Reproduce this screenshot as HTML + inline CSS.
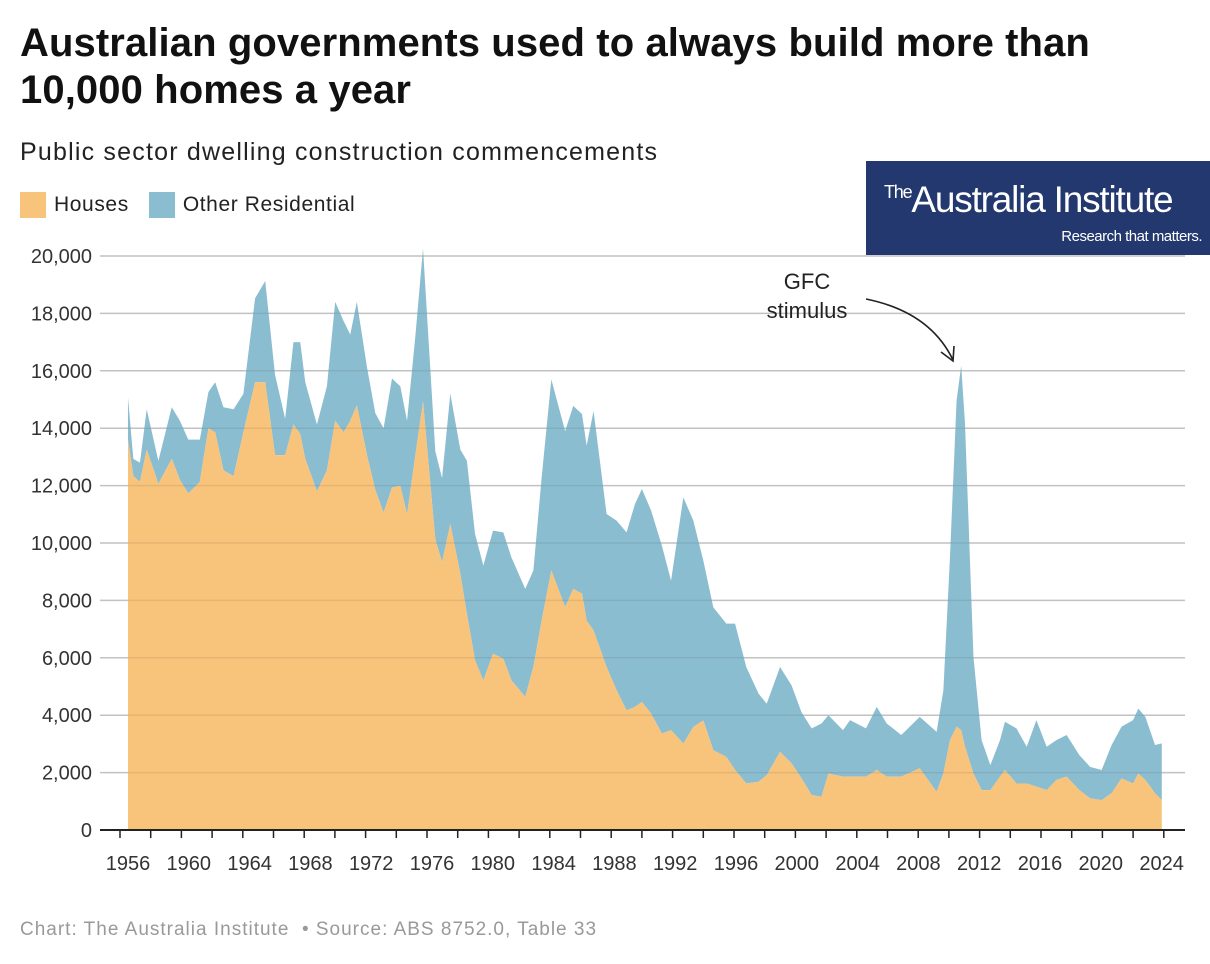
<!DOCTYPE html>
<html><head><meta charset="utf-8"><style>
body{margin:0;background:#fff;width:1210px;height:964px;overflow:hidden;font-family:"Liberation Sans",sans-serif;position:relative}
.t{position:absolute;margin:0}
</style></head><body>
<h1 class="t" style="left:20px;top:20px;font-size:40px;line-height:47px;font-weight:bold;color:#111;letter-spacing:0.1px">Australian governments used to always build more than<br>10,000 homes a year</h1>
<div class="t" style="left:20px;top:138px;font-size:25px;color:#222;letter-spacing:1.2px">Public sector dwelling construction commencements</div>
<div class="t" style="left:20px;top:192px;font-size:21px;color:#222;display:flex;align-items:center;letter-spacing:0.6px">
 <span style="width:26px;height:26px;background:#f8c47c;display:inline-block;margin-right:8px"></span><span>Houses</span>
 <span style="width:26px;height:26px;background:#8bbdd0;display:inline-block;margin:0 8px 0 20px"></span><span>Other Residential</span>
</div>
<div class="t" style="left:866px;top:161px;width:344px;height:94px;background:#22386f;color:#fff">
 <div style="position:absolute;left:18px;top:18px;font-size:37px;letter-spacing:-1.2px;white-space:nowrap"><span style="font-size:18px;vertical-align:top;position:relative;top:3px">The</span>Australia Institute</div>
 <div style="position:absolute;right:8px;top:67px;font-size:15px;letter-spacing:-0.5px">Research that matters.</div>
</div>
<svg id="chart" width="1210" height="964" style="position:absolute;left:0;top:0"></svg>
<div class="t" style="left:20px;top:919px;font-size:19px;color:#999;letter-spacing:1px">Chart: The Australia Institute &nbsp;• Source: ABS 8752.0, Table 33</div>
<script>
const years=[1956.52,1956.87,1957.3,1957.74,1958.5,1959.37,1959.9,1960.45,1961.2,1961.76,1962.2,1962.74,1963.4,1964.04,1964.8,1965.46,1966.1,1966.76,1967.3,1967.74,1968.07,1968.83,1969.48,1970.02,1970.57,1971.0,1971.43,1972.09,1972.63,1973.17,1973.72,1974.26,1974.7,1975.24,1975.74,1976.54,1976.98,1977.52,1978.17,1978.6,1979.13,1979.67,1980.3,1980.97,1981.5,1982.4,1982.93,1983.47,1984.1,1985.0,1985.53,1986.1,1986.4,1986.85,1987.7,1988.35,1989.0,1989.55,1990.0,1990.6,1991.3,1991.9,1992.7,1993.35,1994.0,1994.65,1995.5,1996.07,1996.8,1997.6,1998.13,1999.0,1999.75,2000.4,2001.06,2001.7,2002.15,2003.1,2003.56,2004.6,2005.3,2005.95,2006.9,2008.1,2009.2,2009.64,2010.07,2010.5,2010.8,2011.05,2011.6,2012.13,2012.7,2013.33,2013.65,2014.4,2015.07,2015.7,2016.37,2017.0,2017.67,2018.5,2019.2,2019.95,2020.6,2021.25,2022.0,2022.34,2022.8,2023.43,2023.87];
const houses=[13600,12330,12130,13260,12060,12930,12200,11730,12130,14000,13860,12530,12330,13860,15600,15600,13060,13060,14130,13800,12930,11800,12530,14260,13860,14260,14800,13060,11860,11060,11930,12000,11000,13060,14930,10130,9330,10660,8930,7530,5910,5215,6140,5970,5215,4640,5680,7300,9040,7770,8400,8230,7300,6950,5680,4870,4170,4290,4460,4060,3360,3480,3010,3590,3820,2780,2550,2090,1620,1680,1910,2720,2320,1800,1220,1160,1970,1860,1860,1860,2090,1860,1860,2150,1330,1970,3130,3600,3480,2900,1970,1390,1390,1860,2090,1620,1620,1510,1390,1740,1860,1390,1100,1040,1280,1800,1620,1970,1740,1280,1040];
const totals=[15070,12930,12800,14660,12860,14730,14260,13600,13600,15260,15600,14730,14660,15200,18530,19130,15860,14330,17000,17000,15600,14130,15460,18400,17730,17260,18400,16130,14530,14000,15730,15460,14260,17200,20260,13200,12260,15200,13260,12860,10320,9210,10430,10370,9500,8400,9040,12290,15700,13900,14780,14490,13390,14600,11010,10780,10370,11360,11880,11130,9910,8690,11590,10780,9390,7760,7190,7190,5680,4750,4400,5680,5040,4100,3540,3710,4000,3480,3830,3540,4290,3710,3310,3940,3420,4870,9510,14960,16180,14150,6030,3130,2260,3130,3770,3540,2900,3830,2900,3130,3310,2610,2200,2090,2960,3600,3830,4230,3940,2960,3020];
const other=totals.map((t,i)=>t-houses[i]);
const yTicks=[0,2000,4000,6000,8000,10000,12000,14000,16000,18000,20000];
const xTickLabels=[1956,1960,1964,1968,1972,1976,1980,1984,1988,1992,1996,2000,2004,2008,2012,2016,2020,2024];

const NS="http://www.w3.org/2000/svg";
const svg=document.getElementById('chart');
const X=y=>120+(y-1956)*15.35;
const XL=y=>128+(y-1956)*15.2;
const Y=v=>830-v*574/20000;
function mk(tag,attrs){const e=document.createElementNS(NS,tag);for(const k in attrs)e.setAttribute(k,attrs[k]);svg.appendChild(e);return e;}
yTicks.forEach(v=>{
  const g=mk('line',{x1:100,x2:1185,y1:Y(v),y2:Y(v),stroke:'#d3d3d3','stroke-width':1.5});
  
  
  const t=mk('text',{x:92,y:Y(v)+7,'text-anchor':'end','font-size':20,fill:'#333','font-family':'Liberation Sans, sans-serif'});
  t.textContent=v.toLocaleString('en-US');
  
  
});
let otherPath='';
years.forEach((yr,i)=>{otherPath+=(i?'L':'M')+X(yr)+','+Y(houses[i]+other[i]);});
for(let i=years.length-1;i>=0;i--)otherPath+='L'+X(years[i])+','+Y(houses[i]);
const a1=mk('path',{d:otherPath+'Z',fill:'#8bbdd0'});


let hp='M'+X(years[0])+','+Y(0);
years.forEach((yr,i)=>{hp+='L'+X(yr)+','+Y(houses[i]);});
hp+='L'+X(years[years.length-1])+','+Y(0)+'Z';
const a2=mk('path',{d:hp,fill:'#f8c47c'});


yTicks.forEach(v=>{if(v===0)return;
  const g=mk('line',{x1:100,x2:1185,y1:Y(v),y2:Y(v),stroke:'#000','stroke-opacity':0.08,'stroke-width':1.5});
  
  
});
const ax=mk('line',{x1:100,x2:1185,y1:830,y2:830,stroke:'#222','stroke-width':2});


for(let yr=1956;yr<=2024;yr+=2){
  const tk=mk('line',{x1:X(yr),x2:X(yr),y1:830,y2:838,stroke:'#222','stroke-width':1.5});
  
  
}
xTickLabels.forEach(yr=>{
  const t=mk('text',{x:XL(yr),y:870,'text-anchor':'middle','font-size':20,fill:'#333','font-family':'Liberation Sans, sans-serif'});
  t.textContent=yr;
  
  
});
const a=mk('text',{x:807,y:289,'text-anchor':'middle','font-size':22,fill:'#222','font-family':'Liberation Sans, sans-serif'});
a.textContent='GFC';


const b=mk('text',{x:807,y:318,'text-anchor':'middle','font-size':22,fill:'#222','font-family':'Liberation Sans, sans-serif'});
b.textContent='stimulus';


const ar=mk('path',{d:'M866,299 Q930,312 953,360',fill:'none',stroke:'#222','stroke-width':1.6});


const ah=mk('path',{d:'M941,352 L953,361 L954,346',fill:'none',stroke:'#222','stroke-width':1.6});


</script>
</body></html>
